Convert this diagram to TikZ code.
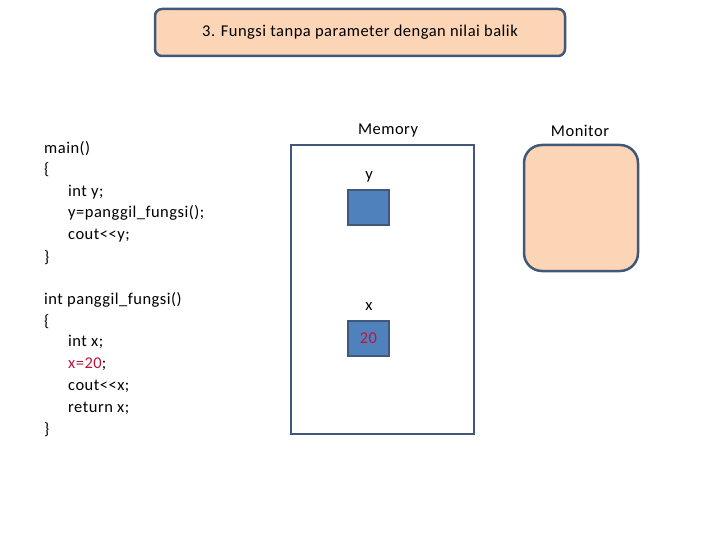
\documentclass[tikz,border=0pt]{standalone}
\usepackage{fontspec}
\setmainfont{Carlito}[LetterSpace=3]
\definecolor{peach}{HTML}{FBD5B5}
\definecolor{edge}{HTML}{41587A}
\definecolor{cellblue}{HTML}{4F81BD}
\definecolor{valred}{HTML}{C0143C}
\begin{document}
\begin{tikzpicture}[x=1pt,y=-1pt,
  code/.style={anchor=west,inner sep=0pt,font=\fontsize{16.5}{18}\selectfont},
  lbl/.style={inner sep=0pt,font=\fontsize{16.5}{18}\selectfont},
  cell/.style={draw=edge,line width=2.5pt,fill=cellblue,minimum width=41pt,minimum height=35pt,inner sep=0pt}]
\useasboundingbox (0,0) rectangle (720,540);
% title
\node[draw=edge,line width=2.5pt,fill=peach,rounded corners=7pt,minimum width=410pt,minimum height=47pt,font=\fontsize{16.5}{18}\selectfont] (title) at (360,32.5) {3. Fungsi tanpa parameter dengan nilai balik};
% code
\node[code] (c1) at (44,149) {main()};
\node[code] (c2) at (44,170) {\{};
\node[code] (c3) at (68,192) {int y;};
\node[code] (c4) at (68,213) {y=panggil\_fungsi();};
\node[code] (c5) at (68,236) {cout<{}<y;};
\node[code] (c6) at (44,258) {\}};
\node[code] (c7) at (44,300) {int panggil\_fungsi()};
\node[code] (c8) at (44,322) {\{};
\node[code] (c9) at (68,342) {int x;};
\node[code] (c10) at (68,364) {\textcolor{valred}{x=20};};
\node[code] (c11) at (68,386) {cout<{}<x;};
\node[code] (c12) at (68,408) {return x;};
\node[code] (c13) at (44,430) {\}};
% memory
\node[lbl] (memlbl) at (388,131) {Memory};
\node[draw=edge,line width=2.5pt,minimum width=183pt,minimum height=289pt,inner sep=0pt] (mem) at (382.5,289.5) {};
\node[lbl] (ylbl) at (369,177) {y};
\node[cell] (ycell) at (368.5,207.5) {};
\node[lbl] (xlbl) at (369,307) {x};
\node[cell,text=valred,font=\fontsize{16.5}{18}\selectfont] (xcell) at (368.5,338.5) {20};
% monitor
\node[lbl] (monlbl) at (580,131) {Monitor};
\node[draw=edge,line width=2.5pt,fill=peach,rounded corners=18pt,minimum width=114pt,minimum height=126pt,inner sep=0pt] (mon) at (581,208) {};
\end{tikzpicture}
\end{document}
